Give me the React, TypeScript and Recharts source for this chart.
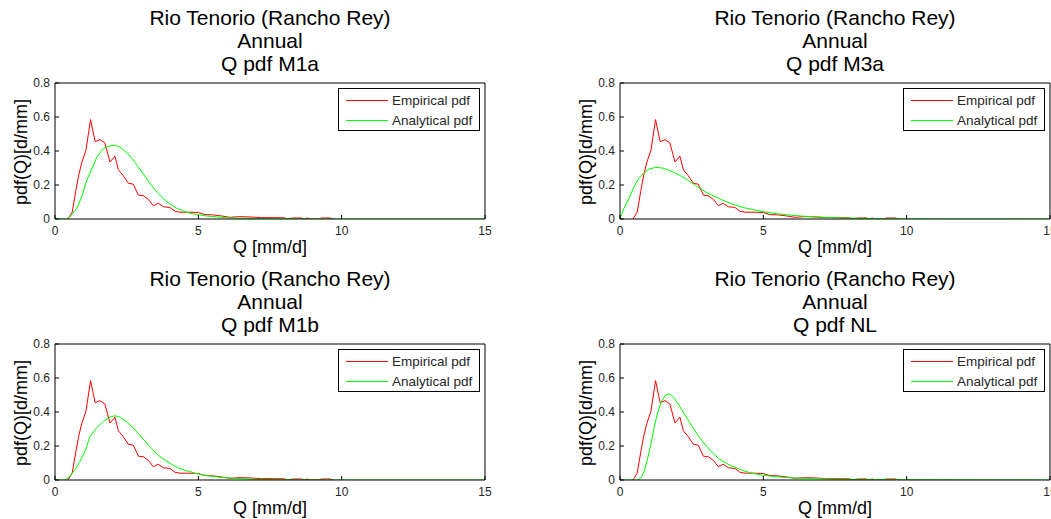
import { LineChart, Line, XAxis, YAxis } from "recharts"

const FONT = "Arial, 'Liberation Sans', Helvetica, sans-serif"

const stationTitle = "Rio Tenorio (Rancho Rey)"
const periodTitle = "Annual"
const xLabel = "Q [mm/d]"
const yLabel = "pdf(Q)[d/mm]"
const legendNames = ["Empirical pdf", "Analytical pdf"]
const legendColors = ["#ff0000", "#00ff00"]
const xTicks = [0, 5, 10, 15]
const yTicks = [0, 0.2, 0.4, 0.6, 0.8]

// empirical pdf (same in every panel)
const empQ = [0.45, 0.6, 0.72, 0.83, 0.93, 1.08, 1.24, 1.4, 1.57, 1.74, 1.92, 2.09, 2.21, 2.38, 2.56, 2.73, 2.91, 3.08, 3.26, 3.43, 3.6, 3.78, 4.01, 4.19, 4.36, 4.71, 5.0, 5.23, 5.52, 5.81, 6.1, 6.45, 6.8, 7.2, 7.6, 8.0, 8.1, 8.3, 8.6, 8.7, 8.8, 8.9, 9.2, 9.3, 9.6, 9.7]
const empPdf = [0, 0.04, 0.16, 0.26, 0.33, 0.405, 0.585, 0.455, 0.467, 0.447, 0.335, 0.37, 0.29, 0.255, 0.21, 0.205, 0.14, 0.137, 0.115, 0.078, 0.093, 0.072, 0.068, 0.045, 0.04, 0.04, 0.038, 0.026, 0.024, 0.018, 0.01, 0.014, 0.012, 0.008, 0.008, 0.007, 0, 0.006, 0.006, 0, 0.006, 0, 0, 0.006, 0.006, 0]

// analytical fits
const m1aQ = [0, 0.4, 0.5, 0.58, 0.76, 0.93, 1.1, 1.28, 1.45, 1.63, 1.8, 1.98, 2.1, 2.25, 2.38, 2.62, 2.85, 3.08, 3.31, 3.55, 3.78, 4.01, 4.24, 4.48, 4.71, 5.0, 5.29, 5.64, 6.1, 7, 8, 9, 15]
const m1aPdf = [0, 0, 0.01, 0.024, 0.063, 0.13, 0.225, 0.295, 0.36, 0.405, 0.425, 0.433, 0.434, 0.425, 0.408, 0.37, 0.32, 0.265, 0.21, 0.158, 0.12, 0.088, 0.064, 0.047, 0.034, 0.025, 0.018, 0.012, 0.006, 0.002, 0.001, 0, 0]

const m3aQ = [0, 0.14, 0.31, 0.49, 0.66, 0.83, 1.0, 1.24, 1.47, 1.7, 1.93, 2.16, 2.4, 2.63, 2.97, 3.32, 3.67, 4.02, 4.36, 4.71, 5.06, 5.52, 5.98, 6.45, 7.14, 7.8, 9, 10, 15]
const m3aPdf = [0, 0.063, 0.12, 0.19, 0.24, 0.27, 0.293, 0.304, 0.3, 0.288, 0.27, 0.25, 0.225, 0.198, 0.16, 0.131, 0.104, 0.082, 0.065, 0.053, 0.041, 0.03, 0.022, 0.016, 0.01, 0.006, 0.002, 0.001, 0]

const m1bQ = [0, 0.35, 0.52, 0.7, 0.87, 1.05, 1.22, 1.45, 1.69, 1.92, 2.09, 2.27, 2.44, 2.67, 2.91, 3.14, 3.37, 3.6, 3.84, 4.07, 4.3, 4.53, 4.83, 5.06, 5.41, 5.76, 6.22, 7, 8, 9, 15]
const m1bPdf = [0, 0, 0.023, 0.062, 0.11, 0.17, 0.255, 0.306, 0.345, 0.37, 0.378, 0.37, 0.35, 0.316, 0.273, 0.228, 0.185, 0.146, 0.117, 0.092, 0.072, 0.057, 0.043, 0.033, 0.023, 0.016, 0.01, 0.004, 0.001, 0, 0]

const nlQ = [0, 0.62, 0.74, 0.85, 0.97, 1.09, 1.2, 1.32, 1.44, 1.59, 1.71, 1.85, 2.02, 2.2, 2.37, 2.55, 2.78, 3.01, 3.25, 3.48, 3.71, 3.95, 4.24, 4.53, 4.88, 5.35, 6.05, 7.2, 9, 15]
const nlPdf = [0, 0, 0.014, 0.053, 0.13, 0.22, 0.316, 0.4, 0.46, 0.5, 0.507, 0.49, 0.45, 0.4, 0.355, 0.306, 0.248, 0.2, 0.156, 0.121, 0.098, 0.078, 0.059, 0.043, 0.031, 0.02, 0.012, 0.006, 0.002, 0]

const toPoints = (q: number[], pdf: number[]) => q.map((v, i) => ({ q: v, pdf: pdf[i] }))

const PLOT_W = 430
const PLOT_H = 136
const PLOT_TOP = 83

interface PanelProps {
  model: string
  fitQ: number[]
  fitPdf: number[]
  left: number
  top: number
  axisW: number
  marginRight: number
}

function Panel({ model, fitQ, fitPdf, left, top, axisW, marginRight }: PanelProps) {
  const chartW = axisW + PLOT_W + 1 + marginRight
  const empirical = toPoints(empQ, empPdf)
  const fit = toPoints(fitQ, fitPdf)
  const tickStyle = { fontSize: 12, fill: "#262626", fontFamily: FONT }

  return (
    <div style={{ position: "absolute", left, top, width: chartW, height: 260, fontFamily: FONT, color: "#000" }}>
      {/* title */}
      <div
        style={{
          position: "absolute",
          left: axisW,
          top: 6,
          width: PLOT_W,
          textAlign: "center",
          fontSize: 21,
          lineHeight: "23.2px",
          whiteSpace: "nowrap",
        }}
      >
        <div>{stationTitle}</div>
        <div>{periodTitle}</div>
        <div>Q pdf {model}</div>
      </div>

      <LineChart
        width={chartW}
        height={PLOT_TOP + PLOT_H + 41}
        margin={{ top: PLOT_TOP - 1, right: marginRight, bottom: 0, left: 0 }}
        style={{ position: "absolute", left: 0, top: 0 }}
      >
        <XAxis
          dataKey="q"
          type="number"
          domain={[0, 15]}
          ticks={xTicks}
          interval={0}
          allowDataOverflow
          height={41}
          tickSize={-4}
          tickMargin={11}
          stroke="#000"
          tick={tickStyle}
        />
        <XAxis
          xAxisId="top"
          orientation="top"
          dataKey="q"
          type="number"
          domain={[0, 15]}
          ticks={xTicks}
          interval={0}
          height={1}
          tickSize={-4}
          stroke="#000"
          tick={false}
        />
        <YAxis
          type="number"
          domain={[0, 0.8]}
          ticks={yTicks}
          interval={0}
          allowDataOverflow
          width={axisW}
          tickSize={-4}
          tickMargin={9}
          stroke="#000"
          tick={tickStyle}
        />
        <YAxis
          yAxisId="right"
          orientation="right"
          type="number"
          domain={[0, 0.8]}
          ticks={yTicks}
          interval={0}
          width={1}
          tickSize={-4}
          stroke="#000"
          tick={false}
        />
        <Line
          data={empirical}
          dataKey="pdf"
          name={legendNames[0]}
          type="linear"
          stroke={legendColors[0]}
          strokeWidth={1}
          dot={false}
          isAnimationActive={false}
        />
        <Line
          data={fit}
          dataKey="pdf"
          name={legendNames[1]}
          type="linear"
          stroke={legendColors[1]}
          strokeWidth={1}
          dot={false}
          isAnimationActive={false}
        />
      </LineChart>

      {/* y label */}
      <div
        style={{
          position: "absolute",
          left: axisW - 34.5,
          top: PLOT_TOP + 69,
          fontSize: 18,
          lineHeight: "20px",
          whiteSpace: "nowrap",
          transform: "translate(-50%, -50%) rotate(-90deg)",
        }}
      >
        {yLabel}
      </div>

      {/* x label */}
      <div
        style={{
          position: "absolute",
          left: axisW,
          top: 237,
          width: PLOT_W,
          textAlign: "center",
          fontSize: 18,
          lineHeight: "20px",
          whiteSpace: "nowrap",
        }}
      >
        {xLabel}
      </div>

      {/* legend */}
      <div
        style={{
          position: "absolute",
          left: axisW + PLOT_W - 5 - 142,
          top: PLOT_TOP + 5,
          width: 140,
          height: 41,
          border: "1px solid #000",
          background: "#fff",
          fontSize: 13.5,
          color: "#262626",
        }}
      >
        {legendNames.map((name, i) => (
          <div key={name} style={{ position: "absolute", left: 0, top: 3 + i * 20, height: 18, width: 140 }}>
            <svg width={44} height={18} style={{ position: "absolute", left: 6, top: 0 }}>
              <line x1={1} x2={43} y1={8.5} y2={8.5} stroke={legendColors[i]} strokeWidth={1} />
            </svg>
            <div style={{ position: "absolute", left: 53, top: 0, lineHeight: "18px", whiteSpace: "nowrap" }}>{name}</div>
          </div>
        ))}
      </div>
    </div>
  )
}

export default function App() {
  return (
    <div style={{ position: "absolute", left: 0, top: 0, width: 1051, height: 519, background: "#fff", overflow: "hidden" }}>
      <Panel model="M1a" fitQ={m1aQ} fitPdf={m1aPdf} left={0} top={0} axisW={55} marginRight={14} />
      <Panel model="M3a" fitQ={m3aQ} fitPdf={m3aPdf} left={525} top={0} axisW={95} marginRight={0} />
      <Panel model="M1b" fitQ={m1bQ} fitPdf={m1bPdf} left={0} top={261} axisW={55} marginRight={14} />
      <Panel model="NL" fitQ={nlQ} fitPdf={nlPdf} left={525} top={261} axisW={95} marginRight={0} />
    </div>
  )
}
